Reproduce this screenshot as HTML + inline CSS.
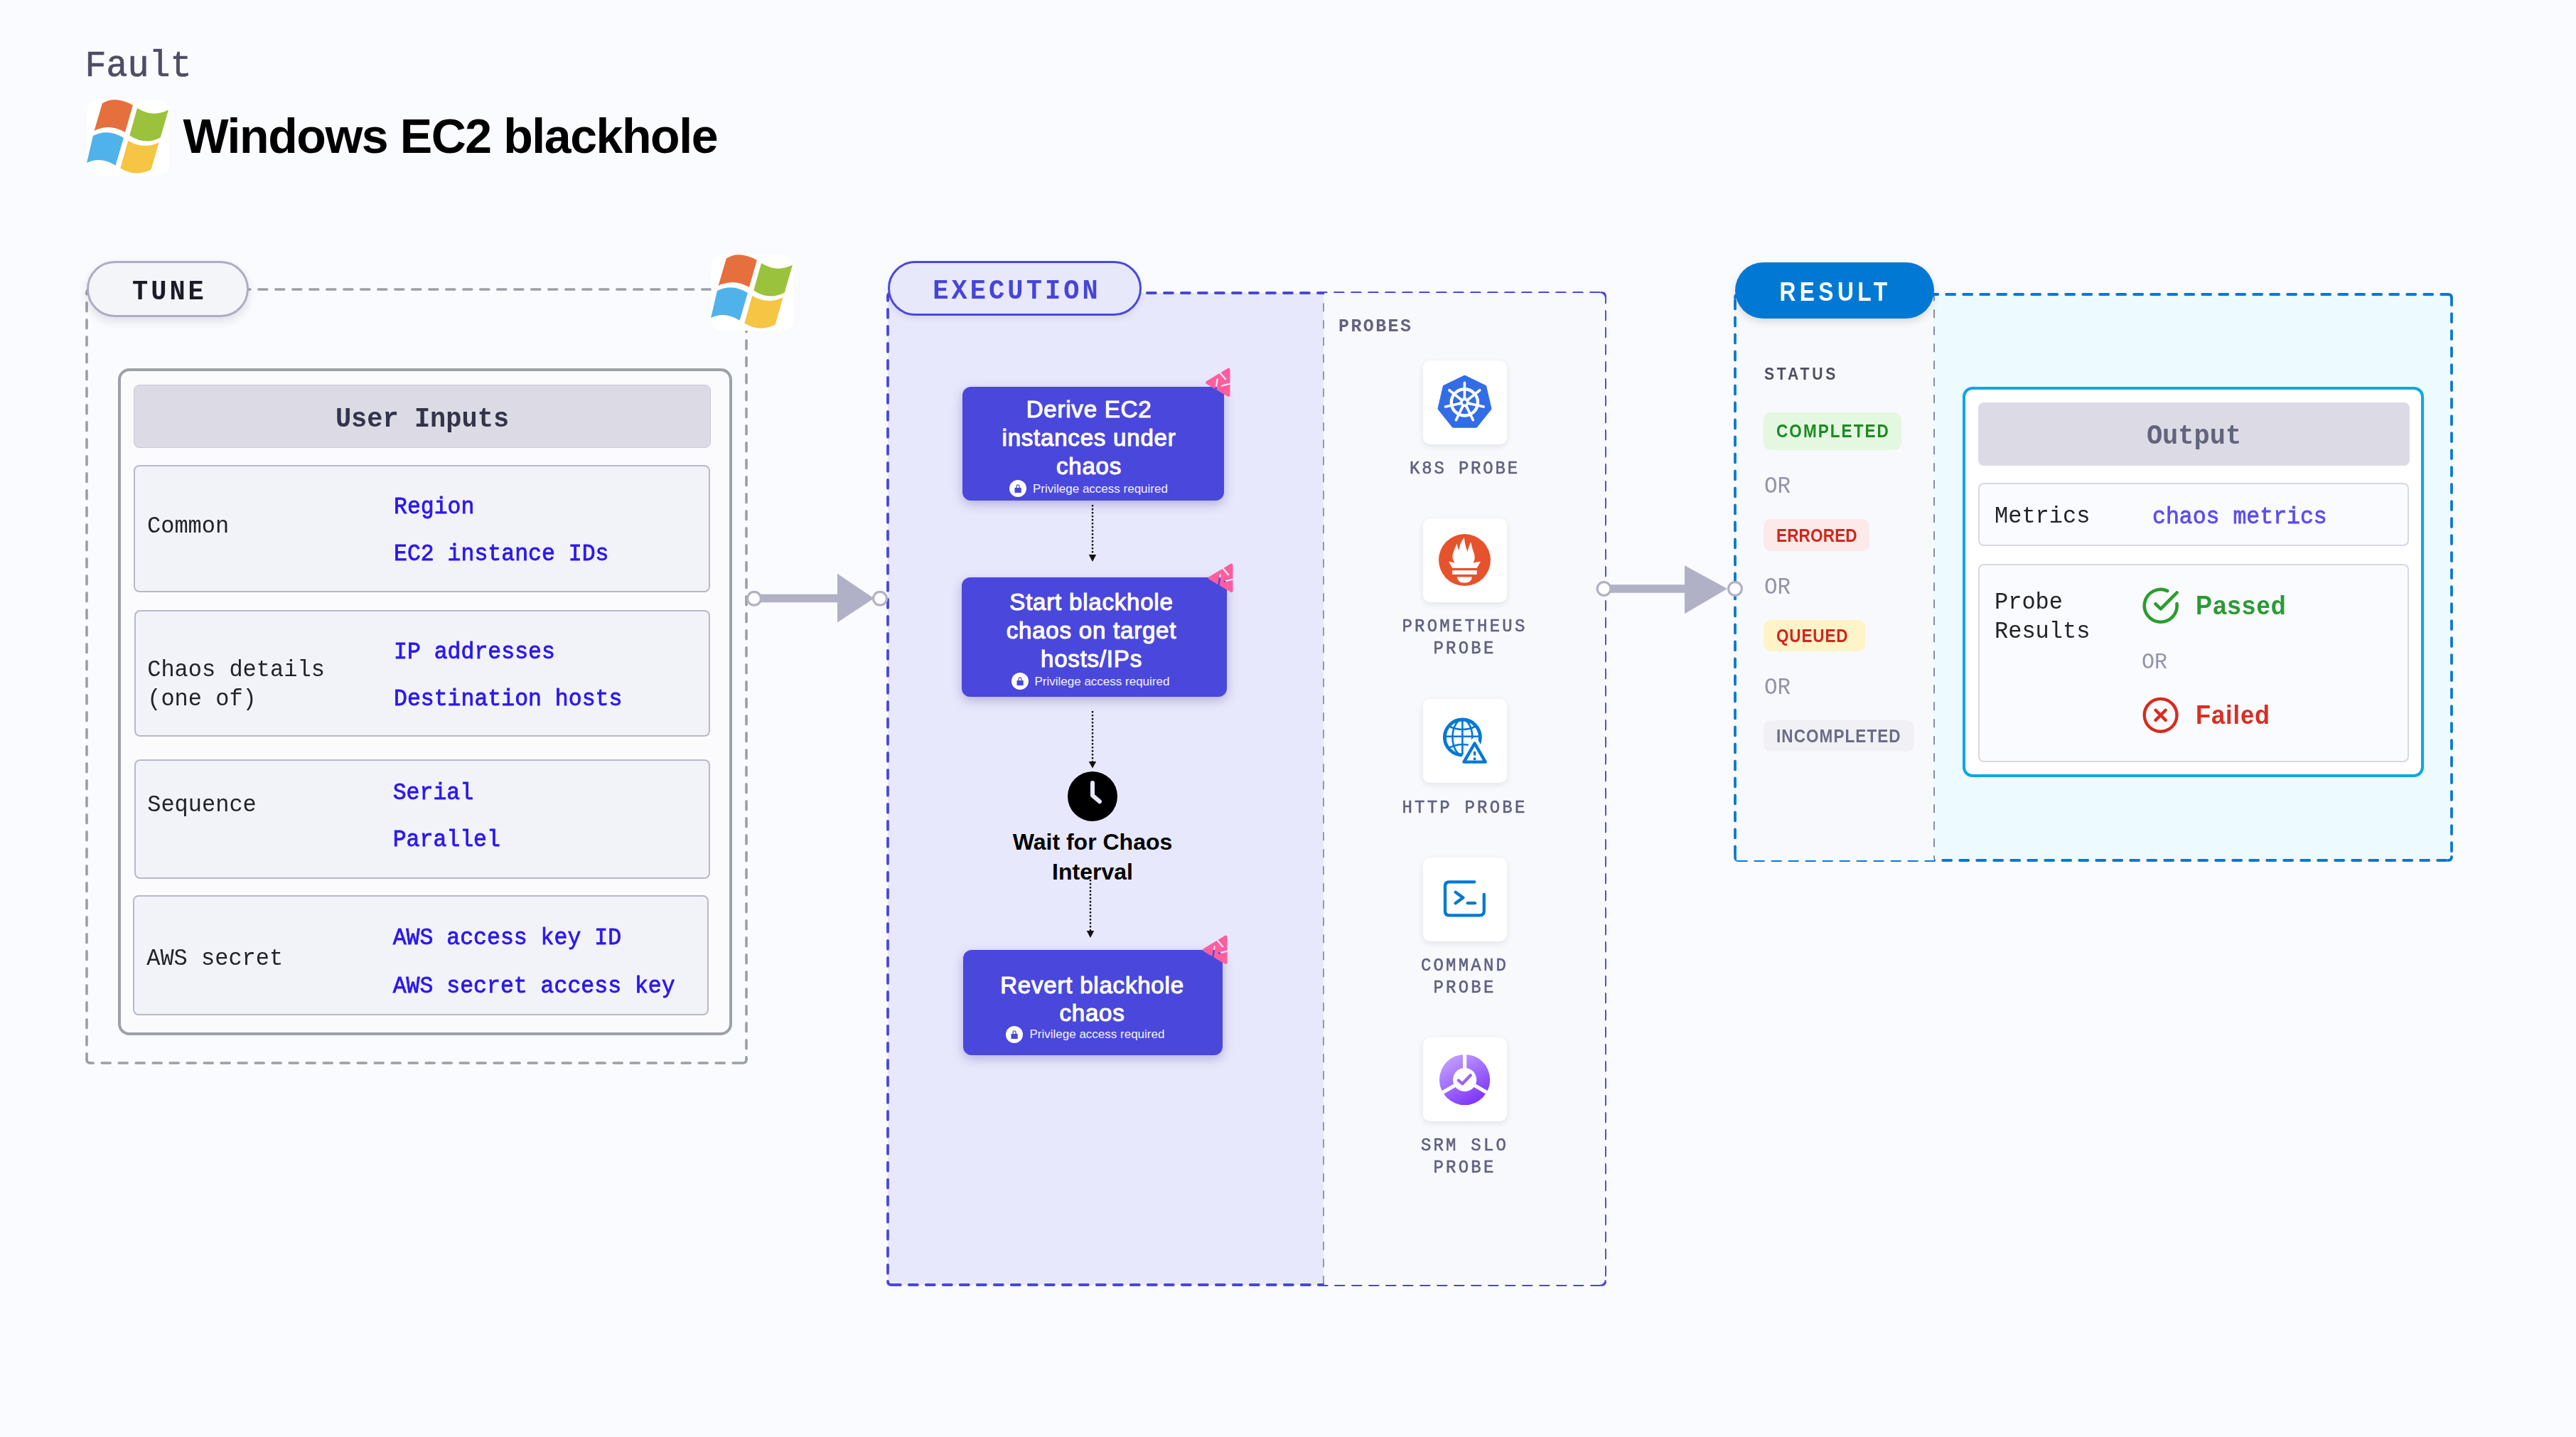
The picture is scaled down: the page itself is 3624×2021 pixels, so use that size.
<!DOCTYPE html><html><head><meta charset="utf-8"><style>
html,body{margin:0;padding:0;}
body{width:3624px;height:2021px;background:#FAFBFE;position:relative;overflow:hidden;}
.t{position:absolute;white-space:pre;}
.b{position:absolute;box-sizing:border-box;}
</style></head><body>
<div class="t" style="left:119.50px;top:65.12px;font-family:'Liberation Mono', monospace;font-size:50px;font-weight:400;color:#4D4E63;line-height:57.14285714285714px;letter-spacing:0px;-webkit-text-stroke:0.7px #4D4E63;transform:scaleY(1.05);transform-origin:0 41.88px;">Fault</div>
<svg class="b" style="left:122px;top:140px" width="116" height="107" viewBox="0 0 116 107">
<rect x="0.5" y="0" width="116" height="107" rx="16" fill="#fff"/>
<path fill="#E66F3E" d="M21.8 5.5 Q40 -6 64.9 8 L54 46 Q32 33 10.6 43.9 Z"/>
<path fill="#9BC23C" d="M71.1 12.1 Q93 26 115 14.6 L103.7 53.5 Q82 65 60.3 50.6 Z"/>
<path fill="#50B2EA" d="M8.9 51 Q30 40 51.9 53.9 L40.6 92.8 Q20 79.5 0.1 89 Z"/>
<path fill="#F5C543" d="M58.2 58.1 Q80 71 101.6 60.2 L90.6 98.6 Q69 109.7 47.3 96.5 Z"/>
</svg>
<div class="t" style="left:257.40px;top:150.62px;font-family:'Liberation Sans', sans-serif;font-size:68px;font-weight:700;color:#000;line-height:81.6px;letter-spacing:-1.42px;">Windows EC2 blackhole</div>
<div class="b" style="left:1249px;top:412px;width:613px;height:1395px;background:#E8E8FC;"></div>
<div class="b" style="left:1862px;top:412px;width:396px;height:1395px;background:#F8F9FC;"></div>
<div class="b" style="left:2441px;top:414px;width:280px;height:796px;background:#F8F9FC;"></div>
<div class="b" style="left:2721px;top:414px;width:728px;height:796px;background:#EDFAFF;"></div>
<svg class="b" style="left:0;top:0" width="3624" height="2021">
<g fill="none" stroke-linecap="round">
<line x1="127" y1="407" x2="1045" y2="407" stroke="#9A9FA6" stroke-width="3.6" stroke-dasharray="12 12" stroke-dashoffset="3.2"/>
<line x1="1050" y1="412" x2="1050" y2="1490" stroke="#9A9FA6" stroke-width="3.6" stroke-dasharray="12 12" stroke-dashoffset="5.2"/>
<line x1="127" y1="1495" x2="1045" y2="1495" stroke="#9A9FA6" stroke-width="3.6" stroke-dasharray="12 12" stroke-dashoffset="7.8"/>
<line x1="122" y1="412" x2="122" y2="1490" stroke="#9A9FA6" stroke-width="3.6" stroke-dasharray="12 12" stroke-dashoffset="10.3"/>
<path d="M122 1490 Q122 1495 127 1495 M1045 1495 Q1050 1495 1050 1490 M1050 412 Q1050 407 1045 407 M127 407 Q122 407 122 412" stroke="#9A9FA6" stroke-width="3.6"/>
<line x1="1254" y1="412" x2="2253" y2="412" stroke="#4946DC" stroke-width="3.8" stroke-dasharray="12 12" stroke-dashoffset="0.1"/>
<line x1="2258" y1="417" x2="2258" y2="1802" stroke="#4946DC" stroke-width="3.8" stroke-dasharray="12 12" stroke-dashoffset="3.3"/>
<line x1="1254" y1="1807" x2="2253" y2="1807" stroke="#4946DC" stroke-width="3.8" stroke-dasharray="12 12" stroke-dashoffset="23.2"/>
<line x1="1249" y1="417" x2="1249" y2="1802" stroke="#4946DC" stroke-width="3.8" stroke-dasharray="12 12" stroke-dashoffset="6.2"/>
<path d="M1249 1802 Q1249 1807 1254 1807 M2253 1807 Q2258 1807 2258 1802 M2258 417 Q2258 412 2253 412 M1254 412 Q1249 412 1249 417" stroke="#4946DC" stroke-width="3.8"/>
<line x1="2446" y1="414" x2="3444" y2="414" stroke="#0A78D4" stroke-width="3.8" stroke-dasharray="12 12" stroke-dashoffset="19.8"/>
<line x1="3449" y1="419" x2="3449" y2="1205" stroke="#0A78D4" stroke-width="3.8" stroke-dasharray="12 12" stroke-dashoffset="1.9"/>
<line x1="2446" y1="1210" x2="3444" y2="1210" stroke="#0A78D4" stroke-width="3.8" stroke-dasharray="12 12" stroke-dashoffset="0.8"/>
<line x1="2441" y1="419" x2="2441" y2="1205" stroke="#0A78D4" stroke-width="3.8" stroke-dasharray="12 12" stroke-dashoffset="20.6"/>
<path d="M2441 1205 Q2441 1210 2446 1210 M3444 1210 Q3449 1210 3449 1205 M3449 419 Q3449 414 3444 414 M2446 414 Q2441 414 2441 419" stroke="#0A78D4" stroke-width="3.8"/>
</g>

</svg>
<div class="b" style="left:1863px;top:412px;width:395px;height:1395px;background:#F8F9FC;border-radius:0 8px 8px 0;"></div>
<div class="b" style="left:2443px;top:450px;width:278px;height:760px;background:#F8F9FC;"></div>
<svg class="b" style="left:0;top:0" width="3624" height="2021">
<line x1="1862" y1="414" x2="1862" y2="1805" stroke="#8E8FA3" stroke-width="1.8" stroke-dasharray="12 12" stroke-dashoffset="11.8"/>
<line x1="2721" y1="414" x2="2721" y2="1208" stroke="#676980" stroke-width="1.5" stroke-dasharray="12 12" stroke-dashoffset="2.7"/>
<!-- arrows -->
<g>
<line x1="1061" y1="841.5" x2="1190" y2="841.5" stroke="#B0B1C6" stroke-width="11.7"/>
<polygon points="1178,806.7 1229.5,841.5 1178,875.4" fill="#B0B1C6"/>
<circle cx="1061" cy="841.8" r="9.4" fill="#fff" stroke="#B0B1C6" stroke-width="3.2"/>
<circle cx="1238" cy="841.8" r="9.4" fill="#fff" stroke="#B0B1C6" stroke-width="3.2"/>
<line x1="2256" y1="828" x2="2380" y2="828" stroke="#B0B1C6" stroke-width="11.7"/>
<polygon points="2370,795.3 2430,828 2370,863.3" fill="#B0B1C6"/>
<circle cx="2256.5" cy="828" r="9.4" fill="#fff" stroke="#B0B1C6" stroke-width="3.2"/>
<circle cx="2441" cy="828" r="9.4" fill="#fff" stroke="#B0B1C6" stroke-width="3.2"/>
</g>
</svg>
<div class="b" style="left:122px;top:367px;width:228px;height:79px;border:3.5px solid #ACADC4;border-radius:40px;background:#F4F5F9;box-shadow:0 6px 14px rgba(30,30,70,0.12);"></div>
<div class="t" style="left:186.00px;top:389.51px;font-family:'Liberation Mono', monospace;font-size:37px;font-weight:700;color:#1C1C28;line-height:42.285714285714285px;letter-spacing:4px;transform:scaleY(1.05);transform-origin:0 30.99px;">TUNE</div>
<svg class="b" style="left:999px;top:358px" width="118" height="107" viewBox="0 0 116 107">
<rect x="0.5" y="0" width="116" height="107" rx="16" fill="#fff"/>
<path fill="#E66F3E" d="M21.8 5.5 Q40 -6 64.9 8 L54 46 Q32 33 10.6 43.9 Z"/>
<path fill="#9BC23C" d="M71.1 12.1 Q93 26 115 14.6 L103.7 53.5 Q82 65 60.3 50.6 Z"/>
<path fill="#50B2EA" d="M8.9 51 Q30 40 51.9 53.9 L40.6 92.8 Q20 79.5 0.1 89 Z"/>
<path fill="#F5C543" d="M58.2 58.1 Q80 71 101.6 60.2 L90.6 98.6 Q69 109.7 47.3 96.5 Z"/>
</svg>
<div class="b" style="left:165.5px;top:518px;width:864.0px;height:937.5px;border:4.2px solid #9DA1A8;border-radius:16px;background:#FBFBFD;"></div>
<div class="b" style="left:188px;top:541px;width:812px;height:89px;border:1.5px solid #C9C8D6;border-radius:8px;background:#DCDBE5;"></div>
<div class="t" style="left:188.00px;top:569.01px;font-family:'Liberation Mono', monospace;font-size:37px;font-weight:700;color:#33334A;line-height:42.285714285714285px;letter-spacing:0px;width:812px;text-align:center;transform:scaleY(1.05);transform-origin:0 30.99px;">User Inputs</div>
<div class="b" style="left:188px;top:654px;width:811px;height:179px;border:2px solid #B8B8CC;border-radius:8px;background:#F2F3F8;"></div>
<div class="b" style="left:189px;top:858px;width:810px;height:178px;border:2px solid #B8B8CC;border-radius:8px;background:#F2F3F8;"></div>
<div class="b" style="left:189px;top:1068px;width:810px;height:168px;border:2px solid #B8B8CC;border-radius:8px;background:#F2F3F8;"></div>
<div class="b" style="left:187px;top:1259px;width:810px;height:169px;border:2px solid #B8B8CC;border-radius:8px;background:#F2F3F8;"></div>
<div class="t" style="left:207.00px;top:723.20px;font-family:'Liberation Mono', monospace;font-size:32px;font-weight:400;color:#22222A;line-height:36.57142857142857px;letter-spacing:0px;transform:scaleY(1.05);transform-origin:0 26.80px;">Common</div>
<div class="t" style="left:207.20px;top:923.75px;font-family:'Liberation Mono', monospace;font-size:32px;font-weight:400;color:#22222A;line-height:38.666666666666664px;letter-spacing:0px;transform:scaleY(1.05);transform-origin:0 27.85px;">Chaos details
(one of)</div>
<div class="t" style="left:207.20px;top:1114.60px;font-family:'Liberation Mono', monospace;font-size:32px;font-weight:400;color:#22222A;line-height:36.57142857142857px;letter-spacing:0px;transform:scaleY(1.05);transform-origin:0 26.80px;">Sequence</div>
<div class="t" style="left:206.20px;top:1330.50px;font-family:'Liberation Mono', monospace;font-size:32px;font-weight:400;color:#22222A;line-height:36.57142857142857px;letter-spacing:0px;transform:scaleY(1.05);transform-origin:0 26.80px;">AWS secret</div>
<div class="t" style="left:554.00px;top:696.12px;font-family:'Liberation Mono', monospace;font-size:31.5px;font-weight:400;color:#2B17EE;line-height:35.99999999999999px;letter-spacing:0px;-webkit-text-stroke:0.8px #2B17EE;transform:scaleY(1.05);transform-origin:0 26.38px;">Region</div>
<div class="t" style="left:554.00px;top:762.22px;font-family:'Liberation Mono', monospace;font-size:31.5px;font-weight:400;color:#2B17EE;line-height:35.99999999999999px;letter-spacing:0px;-webkit-text-stroke:0.8px #2B17EE;transform:scaleY(1.05);transform-origin:0 26.38px;">EC2 instance IDs</div>
<div class="t" style="left:554.00px;top:899.62px;font-family:'Liberation Mono', monospace;font-size:31.5px;font-weight:400;color:#2B17EE;line-height:35.99999999999999px;letter-spacing:0px;-webkit-text-stroke:0.8px #2B17EE;transform:scaleY(1.05);transform-origin:0 26.38px;">IP addresses</div>
<div class="t" style="left:554.00px;top:965.82px;font-family:'Liberation Mono', monospace;font-size:31.5px;font-weight:400;color:#2B17EE;line-height:35.99999999999999px;letter-spacing:0px;-webkit-text-stroke:0.8px #2B17EE;transform:scaleY(1.05);transform-origin:0 26.38px;">Destination hosts</div>
<div class="t" style="left:552.70px;top:1097.82px;font-family:'Liberation Mono', monospace;font-size:31.5px;font-weight:400;color:#2B17EE;line-height:35.99999999999999px;letter-spacing:0px;-webkit-text-stroke:0.8px #2B17EE;transform:scaleY(1.05);transform-origin:0 26.38px;">Serial</div>
<div class="t" style="left:552.70px;top:1164.02px;font-family:'Liberation Mono', monospace;font-size:31.5px;font-weight:400;color:#2B17EE;line-height:35.99999999999999px;letter-spacing:0px;-webkit-text-stroke:0.8px #2B17EE;transform:scaleY(1.05);transform-origin:0 26.38px;">Parallel</div>
<div class="t" style="left:552.70px;top:1302.42px;font-family:'Liberation Mono', monospace;font-size:31.5px;font-weight:400;color:#2B17EE;line-height:35.99999999999999px;letter-spacing:0px;-webkit-text-stroke:0.8px #2B17EE;transform:scaleY(1.05);transform-origin:0 26.38px;">AWS access key ID</div>
<div class="t" style="left:552.70px;top:1370.02px;font-family:'Liberation Mono', monospace;font-size:31.5px;font-weight:400;color:#2B17EE;line-height:35.99999999999999px;letter-spacing:0px;-webkit-text-stroke:0.8px #2B17EE;transform:scaleY(1.05);transform-origin:0 26.38px;">AWS secret access key</div>
<div class="b" style="left:1249px;top:367px;width:357px;height:77px;border:3.5px solid #4B48DC;border-radius:39px;background:#E8E8FB;box-shadow:0 4px 10px rgba(0,0,0,0.08);"></div>
<div class="t" style="left:1252.00px;top:388.51px;font-family:'Liberation Mono', monospace;font-size:37px;font-weight:700;color:#4744D8;line-height:42.285714285714285px;letter-spacing:4.1px;width:357px;text-align:center;transform:scaleY(1.05);transform-origin:0 30.99px;">EXECUTION</div>
<div class="b" style="left:1354px;top:544px;width:368px;height:160px;background:#4A47DC;border-radius:12px;box-shadow:0 5px 16px rgba(60,60,150,0.32);"></div>
<div class="b" style="left:1353px;top:812px;width:373px;height:168px;background:#4A47DC;border-radius:12px;box-shadow:0 5px 16px rgba(60,60,150,0.32);"></div>
<div class="b" style="left:1355px;top:1336px;width:365px;height:148px;background:#4A47DC;border-radius:12px;box-shadow:0 5px 16px rgba(60,60,150,0.32);"></div>
<div class="t" style="left:1348.00px;top:556.36px;font-family:'Liberation Sans', sans-serif;font-size:33px;font-weight:400;color:#FFFFFF;line-height:39.8px;letter-spacing:0.8px;width:368px;text-align:center;-webkit-text-stroke:1.1px #fff;">Derive EC2
instances under
chaos</div>
<div class="t" style="left:1349.00px;top:827.46px;font-family:'Liberation Sans', sans-serif;font-size:33px;font-weight:400;color:#FFFFFF;line-height:39.6px;letter-spacing:0.8px;width:373px;text-align:center;-webkit-text-stroke:1.1px #fff;">Start blackhole
chaos on target
hosts/IPs</div>
<div class="t" style="left:1354.00px;top:1365.56px;font-family:'Liberation Sans', sans-serif;font-size:33px;font-weight:400;color:#FFFFFF;line-height:39.6px;letter-spacing:0.8px;width:365px;text-align:center;-webkit-text-stroke:1.1px #fff;">Revert blackhole
chaos</div>
<svg class="b" style="left:1420.3px;top:675px" width="24" height="24" viewBox="0 0 24 24">
<circle cx="12" cy="12" r="12" fill="#fff"/>
<path d="M10.15 11.2 V8.8 A1.95 1.95 0 0 1 14.05 8.8 V11.2" fill="none" stroke="#4A47DC" stroke-width="1.2"/>
<rect x="7.5" y="11" width="9.2" height="7" rx="0.6" fill="#4A47DC"/>
</svg>
<div class="t" style="left:1453.00px;top:677.71px;font-family:'Liberation Sans', sans-serif;font-size:17px;font-weight:400;color:#F2F2FF;line-height:20.4px;letter-spacing:0px;">Privilege access required</div>
<svg class="b" style="left:1423.1px;top:946.1px" width="24" height="24" viewBox="0 0 24 24">
<circle cx="12" cy="12" r="12" fill="#fff"/>
<path d="M10.15 11.2 V8.8 A1.95 1.95 0 0 1 14.05 8.8 V11.2" fill="none" stroke="#4A47DC" stroke-width="1.2"/>
<rect x="7.5" y="11" width="9.2" height="7" rx="0.6" fill="#4A47DC"/>
</svg>
<div class="t" style="left:1455.50px;top:948.51px;font-family:'Liberation Sans', sans-serif;font-size:17px;font-weight:400;color:#F2F2FF;line-height:20.4px;letter-spacing:0px;">Privilege access required</div>
<svg class="b" style="left:1414.8px;top:1443px" width="24" height="24" viewBox="0 0 24 24">
<circle cx="12" cy="12" r="12" fill="#fff"/>
<path d="M10.15 11.2 V8.8 A1.95 1.95 0 0 1 14.05 8.8 V11.2" fill="none" stroke="#4A47DC" stroke-width="1.2"/>
<rect x="7.5" y="11" width="9.2" height="7" rx="0.6" fill="#4A47DC"/>
</svg>
<div class="t" style="left:1448.50px;top:1445.41px;font-family:'Liberation Sans', sans-serif;font-size:17px;font-weight:400;color:#F2F2FF;line-height:20.4px;letter-spacing:0px;">Privilege access required</div>
<svg class="b" style="left:1694px;top:514px" width="40" height="46" viewBox="0 0 40 46">
<defs><mask id="pm1" maskUnits="userSpaceOnUse" x="0" y="0" width="40" height="46"><rect x="0" y="0" width="40" height="46" fill="#fff"/>
<g stroke="#000" stroke-width="2.3" stroke-linecap="round" fill="none">
<line x1="20.5" y1="8" x2="30" y2="19.3"/>
<line x1="18.6" y1="19.5" x2="16.2" y2="35"/>
<line x1="24.8" y1="28.6" x2="39" y2="25"/>
</g></mask></defs>
<polygon mask="url(#pm1)" points="4,24 34.5,5.5 34.5,42" fill="#FF5E9E" stroke="#FF5E9E" stroke-width="4" stroke-linejoin="round"/>
</svg>
<svg class="b" style="left:1698px;top:789px" width="40" height="46" viewBox="0 0 40 46">
<defs><mask id="pm2" maskUnits="userSpaceOnUse" x="0" y="0" width="40" height="46"><rect x="0" y="0" width="40" height="46" fill="#fff"/>
<g stroke="#000" stroke-width="2.3" stroke-linecap="round" fill="none">
<line x1="20.5" y1="8" x2="30" y2="19.3"/>
<line x1="18.6" y1="19.5" x2="16.2" y2="35"/>
<line x1="24.8" y1="28.6" x2="39" y2="25"/>
</g></mask></defs>
<polygon mask="url(#pm2)" points="4,24 34.5,5.5 34.5,42" fill="#FF5E9E" stroke="#FF5E9E" stroke-width="4" stroke-linejoin="round"/>
</svg>
<svg class="b" style="left:1690px;top:1312px" width="40" height="46" viewBox="0 0 40 46">
<defs><mask id="pm3" maskUnits="userSpaceOnUse" x="0" y="0" width="40" height="46"><rect x="0" y="0" width="40" height="46" fill="#fff"/>
<g stroke="#000" stroke-width="2.3" stroke-linecap="round" fill="none">
<line x1="20.5" y1="8" x2="30" y2="19.3"/>
<line x1="18.6" y1="19.5" x2="16.2" y2="35"/>
<line x1="24.8" y1="28.6" x2="39" y2="25"/>
</g></mask></defs>
<polygon mask="url(#pm3)" points="4,24 34.5,5.5 34.5,42" fill="#FF5E9E" stroke="#FF5E9E" stroke-width="4" stroke-linejoin="round"/>
</svg>
<svg class="b" style="left:0;top:0" width="3624" height="2021">
<g stroke="#111" stroke-width="2.4" stroke-dasharray="2.5 2.5">
<line x1="1537" y1="710" x2="1537" y2="781"/>
<line x1="1537" y1="1000" x2="1537" y2="1071"/>
<line x1="1534" y1="1237" x2="1534" y2="1309"/>
</g>
<g fill="#111">
<polygon points="1531.7,780 1542.2,780 1537,790"/>
<polygon points="1531.7,1071 1542.2,1071 1537,1080.6"/>
<polygon points="1528.7,1309 1539.2,1309 1534,1319"/>
</g>
<circle cx="1537" cy="1120" r="35" fill="#000"/>
<path d="M1537 1101 V1118.8 L1547 1127.3" fill="none" stroke="#E8E8FC" stroke-width="6" stroke-linecap="round" stroke-linejoin="round"/>
</svg>
<div class="t" style="left:1337.00px;top:1162.96px;font-family:'Liberation Sans', sans-serif;font-size:32px;font-weight:700;color:#000;line-height:42.1px;letter-spacing:0px;width:400px;text-align:center;">Wait for Chaos
Interval</div>
<div class="t" style="left:1883.00px;top:445.86px;font-family:'Liberation Mono', monospace;font-size:25px;font-weight:700;color:#62647E;line-height:28.57142857142857px;letter-spacing:2.4px;transform:scaleY(1.05);transform-origin:0 20.94px;">PROBES</div>
<div class="b" style="left:2002px;top:507px;width:118px;height:118px;background:#fff;border-radius:10px;box-shadow:0 3px 8px rgba(40,40,80,0.10);"></div>
<div class="b" style="left:2002px;top:729px;width:118px;height:118px;background:#fff;border-radius:10px;box-shadow:0 3px 8px rgba(40,40,80,0.10);"></div>
<div class="b" style="left:2002px;top:983px;width:118px;height:118px;background:#fff;border-radius:10px;box-shadow:0 3px 8px rgba(40,40,80,0.10);"></div>
<div class="b" style="left:2002px;top:1205.5px;width:118px;height:118.0px;background:#fff;border-radius:10px;box-shadow:0 3px 8px rgba(40,40,80,0.10);"></div>
<div class="b" style="left:2002px;top:1459px;width:118px;height:118px;background:#fff;border-radius:10px;box-shadow:0 3px 8px rgba(40,40,80,0.10);"></div>
<div class="t" style="left:1900.00px;top:645.90px;font-family:'Liberation Mono', monospace;font-size:24px;font-weight:400;color:#5F6280;line-height:27.428571428571423px;letter-spacing:2.8px;width:321px;text-align:center;-webkit-text-stroke:0.55px #5F6280;transform:scaleY(1.05);transform-origin:0 20.10px;">K8S PROBE</div>
<div class="t" style="left:1900.00px;top:867.21px;font-family:'Liberation Mono', monospace;font-size:24px;font-weight:400;color:#5F6280;line-height:29.80952380952381px;letter-spacing:3.2px;width:321px;text-align:center;-webkit-text-stroke:0.55px #5F6280;transform:scaleY(1.05);transform-origin:0 21.29px;">PROMETHEUS
PROBE</div>
<div class="t" style="left:1900.00px;top:1122.70px;font-family:'Liberation Mono', monospace;font-size:24px;font-weight:400;color:#5F6280;line-height:27.428571428571423px;letter-spacing:3.2px;width:321px;text-align:center;-webkit-text-stroke:0.55px #5F6280;transform:scaleY(1.05);transform-origin:0 20.10px;">HTTP PROBE</div>
<div class="t" style="left:1900.00px;top:1344.22px;font-family:'Liberation Mono', monospace;font-size:24px;font-weight:400;color:#5F6280;line-height:30.38095238095238px;letter-spacing:3.2px;width:321px;text-align:center;-webkit-text-stroke:0.55px #5F6280;transform:scaleY(1.05);transform-origin:0 21.58px;">COMMAND
PROBE</div>
<div class="t" style="left:1900.00px;top:1597.38px;font-family:'Liberation Mono', monospace;font-size:24px;font-weight:400;color:#5F6280;line-height:30.476190476190474px;letter-spacing:3.2px;width:321px;text-align:center;-webkit-text-stroke:0.55px #5F6280;transform:scaleY(1.05);transform-origin:0 21.62px;">SRM SLO
PROBE</div>
<svg class="b" style="left:2002px;top:507px" width="118" height="118" viewBox="0 0 118 118">
<polygon points="58.50,23.30 86.88,36.97 93.89,67.68 74.25,92.31 42.75,92.31 23.11,67.68 30.12,36.97" fill="#326DE6" stroke="#326DE6" stroke-width="5" stroke-linejoin="round"/>
<circle cx="58.4" cy="58.9" r="18.6" fill="none" stroke="#fff" stroke-width="4.4"/>
<g stroke="#fff" stroke-width="3.6" stroke-linecap="round"><line x1="58.4" y1="58.9" x2="58.40" y2="31.40"/><line x1="58.4" y1="58.9" x2="79.90" y2="41.75"/><line x1="58.4" y1="58.9" x2="85.21" y2="65.02"/><line x1="58.4" y1="58.9" x2="70.33" y2="83.68"/><line x1="58.4" y1="58.9" x2="46.47" y2="83.68"/><line x1="58.4" y1="58.9" x2="31.59" y2="65.02"/><line x1="58.4" y1="58.9" x2="36.90" y2="41.75"/></g>
<g fill="#fff"><polygon points="56.00,54.51 58.40,41.90 60.80,54.51"/><polygon points="60.34,54.29 71.69,48.30 63.33,58.04"/><polygon points="63.21,57.54 74.97,62.68 62.14,62.21"/><polygon points="62.46,61.81 65.78,74.22 58.14,63.89"/><polygon points="58.66,63.89 51.02,74.22 54.34,61.81"/><polygon points="54.66,62.21 41.83,62.68 53.59,57.54"/><polygon points="53.47,58.04 45.11,48.30 56.46,54.29"/></g>
<circle cx="58.4" cy="58.9" r="6.2" fill="#fff"/>
<circle cx="58.4" cy="58.9" r="2.6" fill="#326DE6"/>
</svg>
<svg class="b" style="left:2002px;top:729px" width="118" height="118" viewBox="0 0 118 118">
<circle cx="58.5" cy="58.6" r="36.5" fill="#E6522C"/>
<g fill="#fff">
<path d="M47.8 82.5 H68.9 Q68 90.8 58.35 90.8 Q48.7 90.8 47.8 82.5 Z"/>
<rect x="41.2" y="73.2" width="34.5" height="5.8"/>
<path d="M36 60.8 L45 62.5 Q40 57 42 50 Q44 42 47.8 35.6 Q48.5 42 50.5 45 Q51 36 57.8 26.9 Q59 38 62.5 47 Q64 40 67.1 33.2 Q69 42 72 50 Q74 57 70.5 62.5 L81 60.8 L75.7 69.9 H41.2 Z"/>
</g>
</svg>
<svg class="b" style="left:2002px;top:983px" width="118" height="118" viewBox="0 0 118 118">
<g fill="none" stroke="#0278D5">
<circle cx="55.4" cy="54" r="25" stroke-width="4.8"/>
<line x1="55.4" y1="29" x2="55.4" y2="79" stroke-width="2.6"/>
<ellipse cx="55.4" cy="54" rx="13.9" ry="25" stroke-width="2.6"/>
<line x1="30" y1="52.7" x2="81" y2="52.7" stroke-width="2.6"/>
<path d="M36 38 Q55.4 48 75 38" stroke-width="2.6"/>
<path d="M36 69 Q55.4 59 75 69" stroke-width="2.6"/>
</g>
<polygon points="72.6,59.5 55,90.5 90.2,90.5" fill="#fff" stroke="#fff" stroke-width="10" stroke-linejoin="round"/>
<polygon points="72.6,62.5 57.5,88.6 87.7,88.6" fill="#fff" stroke="#0278D5" stroke-width="4.4" stroke-linejoin="round"/>
<line x1="72.6" y1="73.8" x2="72.6" y2="79.5" stroke="#0278D5" stroke-width="3.4"/>
<circle cx="72.6" cy="84.2" r="1.9" fill="#0278D5"/>
</svg>
<svg class="b" style="left:2002px;top:1205.5px" width="118" height="118" viewBox="0 0 118 118">
<g fill="none" stroke="#0278D5" stroke-width="4.3" stroke-linecap="round" stroke-linejoin="round">
<path d="M72.3 34.3 H37 Q31 34.3 31 40.3 V75.3 Q31 81.3 37 81.3 H79.8 Q85.8 81.3 85.8 75.3 V51.8"/>
<path d="M45.7 48.7 L56.3 56.5 L45.7 64.3"/>
<line x1="62.8" y1="64.2" x2="73" y2="64.2"/>
</g>
</svg>
<svg class="b" style="left:2002px;top:1459px" width="118" height="118" viewBox="0 0 118 118">
<defs><linearGradient id="sg" x1="0.2" y1="0" x2="0.8" y2="1"><stop offset="0" stop-color="#C3A4FF"/><stop offset="1" stop-color="#7A2CF8"/></linearGradient></defs>
<circle cx="58.6" cy="59.5" r="35.6" fill="url(#sg)"/>
<circle cx="58.6" cy="59.5" r="16.6" fill="#fff"/>
<g stroke="#fff" stroke-width="5.2"><line x1="58.60" y1="45.50" x2="58.60" y2="19.50"/><line x1="70.72" y1="66.50" x2="93.24" y2="79.50"/><line x1="46.48" y1="66.50" x2="23.96" y2="79.50"/></g>
<path d="M50 60.5 L55.3 65.3 L66.8 53.2" fill="none" stroke="#9C62FC" stroke-width="4.2" stroke-linecap="round" stroke-linejoin="round"/>
</svg>
<div class="b" style="left:2441px;top:369px;width:280px;height:79px;background:#0278D5;border-radius:40px;box-shadow:0 5px 12px rgba(0,0,0,0.12);"></div>
<div class="t" style="left:2441.50px;top:388.62px;font-family:'Liberation Sans', sans-serif;font-size:36px;font-weight:700;color:#fff;line-height:43.199999999999996px;letter-spacing:6.2px;width:280px;text-align:center;transform:scaleX(0.88);transform-origin:50% 50%;">RESULT</div>
<div class="t" style="left:2482.00px;top:512.38px;font-family:'Liberation Sans', sans-serif;font-size:24px;font-weight:700;color:#4F4F63;line-height:28.799999999999997px;letter-spacing:4.3px;transform:scaleX(0.88);transform-origin:0 50%;">STATUS</div>
<div class="b" style="left:2481px;top:580px;width:194px;height:53px;background:#E4F7E1;border-radius:10px;"></div>
<div class="t" style="left:2498.50px;top:591.43px;font-family:'Liberation Sans', sans-serif;font-size:25px;font-weight:700;color:#1E8A23;line-height:30.0px;letter-spacing:2.3px;transform:scaleX(0.9);transform-origin:0 50%;">COMPLETED</div>
<div class="b" style="left:2481px;top:730px;width:149px;height:45px;background:#FCE9E9;border-radius:10px;"></div>
<div class="t" style="left:2498.50px;top:738.03px;font-family:'Liberation Sans', sans-serif;font-size:25px;font-weight:700;color:#D0271D;line-height:30.0px;letter-spacing:0.2px;transform:scaleX(0.9);transform-origin:0 50%;">ERRORED</div>
<div class="b" style="left:2481px;top:872px;width:143px;height:44px;background:#FFF3C8;border-radius:10px;"></div>
<div class="t" style="left:2498.50px;top:879.23px;font-family:'Liberation Sans', sans-serif;font-size:25px;font-weight:700;color:#D0271D;line-height:30.0px;letter-spacing:0.95px;transform:scaleX(0.9);transform-origin:0 50%;">QUEUED</div>
<div class="b" style="left:2481px;top:1013px;width:212px;height:44px;background:#F0F0F5;border-radius:10px;"></div>
<div class="t" style="left:2498.50px;top:1020.13px;font-family:'Liberation Sans', sans-serif;font-size:25px;font-weight:700;color:#6B6D85;line-height:30.0px;letter-spacing:1.2px;transform:scaleX(0.9);transform-origin:0 50%;">INCOMPLETED</div>
<div class="t" style="left:2482.00px;top:667.34px;font-family:'Liberation Mono', monospace;font-size:31px;font-weight:400;color:#9293AB;line-height:35.42857142857142px;letter-spacing:0px;transform:scaleY(1.05);transform-origin:0 25.96px;">OR</div>
<div class="t" style="left:2482.00px;top:809.14px;font-family:'Liberation Mono', monospace;font-size:31px;font-weight:400;color:#9293AB;line-height:35.42857142857142px;letter-spacing:0px;transform:scaleY(1.05);transform-origin:0 25.96px;">OR</div>
<div class="t" style="left:2482.00px;top:950.04px;font-family:'Liberation Mono', monospace;font-size:31px;font-weight:400;color:#9293AB;line-height:35.42857142857142px;letter-spacing:0px;transform:scaleY(1.05);transform-origin:0 25.96px;">OR</div>
<div class="b" style="left:2761px;top:544px;width:649px;height:549px;border:4px solid #0AA8E0;border-radius:14px;background:#fff;"></div>
<div class="b" style="left:2783px;top:566px;width:607px;height:89px;background:#DCDBE5;border-radius:8px;"></div>
<div class="t" style="left:2783.00px;top:593.21px;font-family:'Liberation Mono', monospace;font-size:37px;font-weight:700;color:#62647D;line-height:42.285714285714285px;letter-spacing:0px;width:607px;text-align:center;transform:scaleY(1.05);transform-origin:0 30.99px;">Output</div>
<div class="b" style="left:2783px;top:678.6px;width:606px;height:89.79999999999995px;border:2px solid #D8D8E4;border-radius:8px;background:#FAFBFE;"></div>
<div class="b" style="left:2783px;top:792.7px;width:606px;height:279.0px;border:2px solid #D8D8E4;border-radius:8px;background:#FAFBFE;"></div>
<div class="t" style="left:2806.00px;top:709.40px;font-family:'Liberation Mono', monospace;font-size:32px;font-weight:400;color:#22222A;line-height:36.57142857142857px;letter-spacing:0px;transform:scaleY(1.05);transform-origin:0 26.80px;">Metrics</div>
<div class="t" style="left:3028.00px;top:709.82px;font-family:'Liberation Mono', monospace;font-size:31.5px;font-weight:400;color:#5A4CF2;line-height:35.99999999999999px;letter-spacing:0px;-webkit-text-stroke:0.75px #5A4CF2;transform:scaleY(1.05);transform-origin:0 26.38px;">chaos metrics</div>
<div class="t" style="left:2806.00px;top:829.10px;font-family:'Liberation Mono', monospace;font-size:32px;font-weight:400;color:#22222A;line-height:38.57142857142857px;letter-spacing:0px;transform:scaleY(1.05);transform-origin:0 27.80px;">Probe
Results</div>
<svg class="b" style="left:3010px;top:822px" width="60" height="60" viewBox="0 0 60 60">
<path d="M39.2 9.06 A22.9 22.9 0 1 0 52.43 27.1" fill="none" stroke="#2A9D2E" stroke-width="4.6" stroke-linecap="round"/>
<path d="M22.5 27.3 L29.8 34.4 L52.5 11.5" fill="none" stroke="#2A9D2E" stroke-width="4.6" stroke-linecap="round" stroke-linejoin="round"/>
</svg>
<svg class="b" style="left:3010px;top:976px" width="60" height="60" viewBox="0 0 60 60">
<circle cx="29.6" cy="29.8" r="22.9" fill="none" stroke="#D92A1E" stroke-width="4.4"/>
<path d="M22.5 22.8 L36.7 36.9 M36.7 22.8 L22.5 36.9" fill="none" stroke="#D92A1E" stroke-width="4.4" stroke-linecap="round"/>
</svg>
<div class="t" style="left:3089.00px;top:830.37px;font-family:'Liberation Sans', sans-serif;font-size:37px;font-weight:700;color:#2A9A35;line-height:44.4px;letter-spacing:1.35px;transform:scaleX(0.93);transform-origin:0 50%;">Passed</div>
<div class="t" style="left:3013.00px;top:915.07px;font-family:'Liberation Mono', monospace;font-size:30px;font-weight:400;color:#9293AB;line-height:34.285714285714285px;letter-spacing:0px;transform:scaleY(1.05);transform-origin:0 25.13px;">OR</div>
<div class="t" style="left:3089.00px;top:983.67px;font-family:'Liberation Sans', sans-serif;font-size:37px;font-weight:700;color:#D92E24;line-height:44.4px;letter-spacing:1.0px;transform:scaleX(0.93);transform-origin:0 50%;">Failed</div>
</body></html>
